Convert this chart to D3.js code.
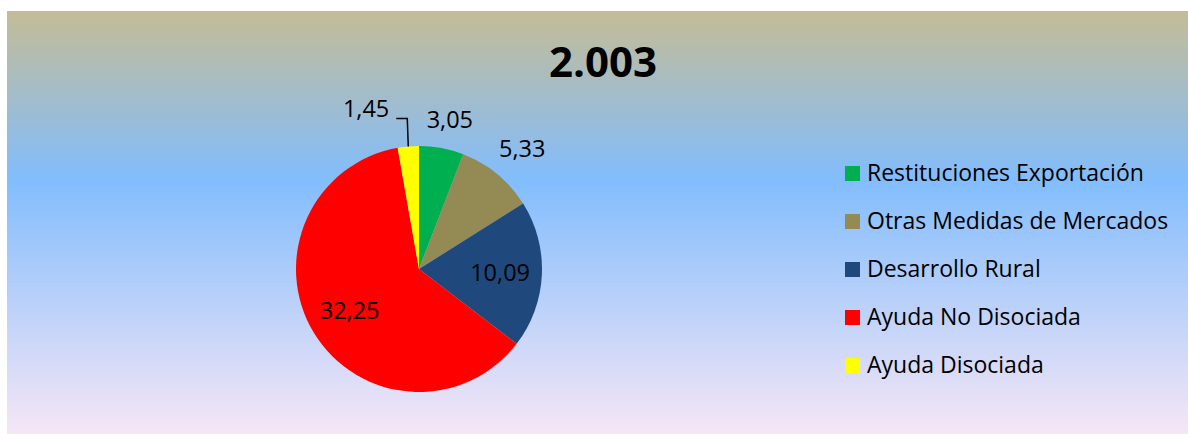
<!DOCTYPE html>
<html>
<head>
<meta charset="utf-8">
<script src="https://cdn.jsdelivr.net/npm/d3@7/dist/d3.min.js"></script>
<style>
  html, body { margin: 0; padding: 0; background: #ffffff; }
  svg { display: block; }
</style>
</head>
<body>
<div id="chart"></div>
<script>
// ---- data ----
const title = "2.003";
const categories = ["Restituciones Exportación", "Otras Medidas de Mercados", "Desarrollo Rural", "Ayuda No Disociada", "Ayuda Disociada"];
const values = [3.05, 5.33, 10.09, 32.25, 1.45];
const labels = ["3,05", "5,33", "10,09", "32,25", "1,45"];
const colors = ["#00B050", "#948A54", "#1F497D", "#FF0000", "#FFFF00"];

// ---- layout ----
const W = 1188, H = 434;
const FONT = "'Open Sans', 'Noto Sans', sans-serif";
const cx = 419, cy = 269, R = 123;
// label radius factors (fraction of R) per slice; null => leader-line label
const labelRadius = [1.24, 1.29, 0.66, 0.66, null];
const labelAngleShift = [0.02, 0.02, 0, 0, 0];

const svg = d3.select("#chart").append("svg").attr("width", W).attr("height", H);

const defs = svg.append("defs");
const grad = defs.append("linearGradient").attr("id", "bg").attr("x1", 0).attr("y1", 0).attr("x2", 0).attr("y2", 1);
grad.append("stop").attr("offset", "0%").attr("stop-color", "#C4BC97");
grad.append("stop").attr("offset", "40%").attr("stop-color", "#82BDFD");
grad.append("stop").attr("offset", "100%").attr("stop-color", "#F6E6F6");

svg.append("rect").attr("x", 7).attr("y", 11).attr("width", W - 7).attr("height", H - 11).attr("fill", "url(#bg)");

svg.append("text").attr("x", 603).attr("y", 77).attr("text-anchor", "middle")
  .attr("font-family", FONT).attr("font-weight", "bold").attr("font-size", 42).attr("fill", "#000")
  .text(title);

const pie = d3.pie().sort(null).value(d => d)(values);
const arc = d3.arc().innerRadius(0).outerRadius(R);

const g = svg.append("g").attr("transform", `translate(${cx},${cy})`);
g.selectAll("path.slice").data(pie).enter().append("path")
  .attr("class", "slice").attr("d", arc).attr("fill", (d, i) => colors[i]);

// labels
pie.forEach((d, i) => {
  const mid = (d.startAngle + d.endAngle) / 2 + labelAngleShift[i];
  const f = labelRadius[i];
  if (f !== null) {
    const r = f * R;
    const x = Math.sin(mid) * r, y = -Math.cos(mid) * r;
    g.append("text").attr("x", x).attr("y", y).attr("dy", "0.35em").attr("text-anchor", "middle")
      .attr("font-family", FONT).attr("font-size", 23.5).attr("fill", "#000").text(labels[i]);
  } else {
    const ax = Math.sin(mid) * R, ay = -Math.cos(mid) * R;
    const ky = ay - 28, kx = ax - 1;
    g.append("path").attr("d", `M${ax},${ay}L${kx},${ky}L${kx - 11},${ky}`)
      .attr("fill", "none").attr("stroke", "#000").attr("stroke-width", 1.5);
    g.append("text").attr("x", kx - 18).attr("y", ky - 1).attr("text-anchor", "end")
      .attr("font-family", FONT).attr("font-size", 23.5).attr("fill", "#000").text(labels[i]);
  }
});

// legend
const leg = svg.append("g");
const rowY = d3.scalePoint().domain(categories).range([173, 365]);
categories.forEach((c, i) => {
  const y = rowY(c);
  leg.append("rect").attr("x", 845).attr("y", y - 7).attr("width", 15).attr("height", 15).attr("fill", colors[i]);
  leg.append("text").attr("x", 867).attr("y", y).attr("dy", "0.35em")
    .attr("font-family", FONT).attr("font-size", 23).attr("fill", "#000").text(c);
});
</script>
</body>
</html>
